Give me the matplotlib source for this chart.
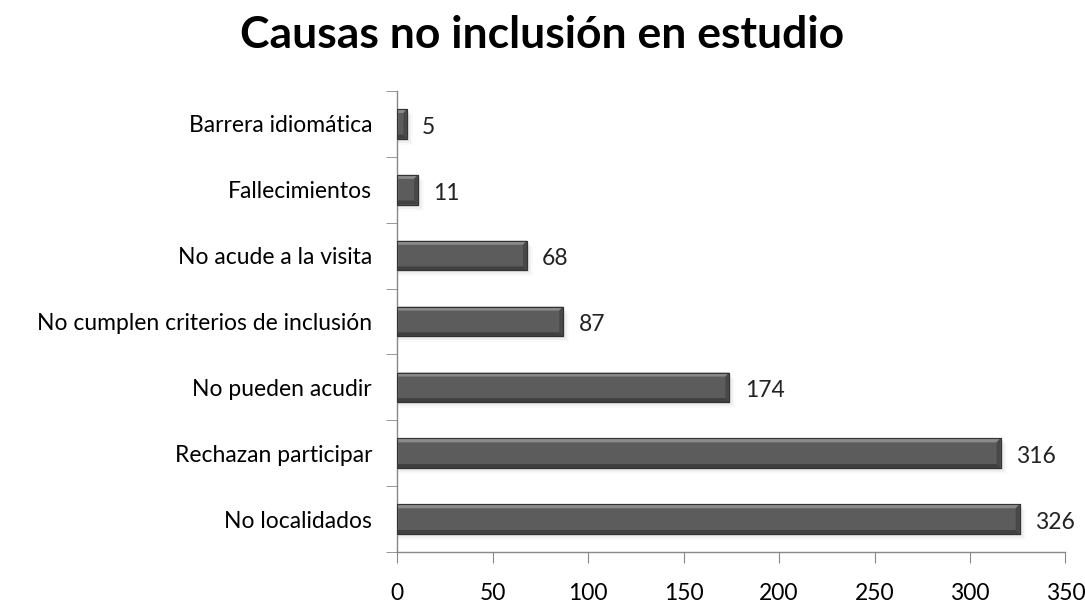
import matplotlib
matplotlib.use("Agg")
import matplotlib.pyplot as plt
from matplotlib.patches import Polygon, Rectangle
import numpy as np

categories = ["No localidados", "Rechazan participar", "No pueden acudir",
              "No cumplen criterios de inclusión", "No acude a la visita",
              "Fallecimientos", "Barrera idiomática"]
values = [326, 316, 174, 87, 68, 11, 5]
xticks = [0, 50, 100, 150, 200, 250, 300, 350]

plt.rcParams['font.family'] = ['Lato', 'DejaVu Sans']

fig = plt.figure(figsize=(10.85, 6.10), dpi=100)
ax = fig.add_axes([0.366, 0.095, 0.616, 0.756])
ax.set_xlim(0, 350)
ax.set_ylim(-0.5, len(categories) - 0.5)

bar_h = 0.45
face = "#5c5c5c"
fig.canvas.draw()
# bevel size in data units (about 4 px)
px_x = 350 / (ax.get_window_extent().width)
px_y = len(categories) / (ax.get_window_extent().height)
bx, by = 4 * px_x, 4 * px_y

ypos = np.arange(len(categories))
for y, v in zip(ypos, values):
    y0, y1 = y - bar_h / 2, y + bar_h / 2
    # soft shadow
    for k, a in enumerate([0.06, 0.04, 0.02]):
        ax.add_patch(Rectangle((0, y0 - (k + 1) * px_y * 2), v + (k + 1) * px_x * 2,
                               bar_h, color="black", alpha=a, lw=0, zorder=1))
    ax.add_patch(Rectangle((0, y0), v, bar_h, facecolor=face, edgecolor="#3a3a3a",
                           lw=0.8, zorder=2))
    b = min(bx, v / 3)
    # top bevel (light)
    ax.add_patch(Polygon([(0, y1), (v, y1), (v - b, y1 - by), (0, y1 - by)],
                         closed=True, facecolor="#8a8a8a", lw=0, zorder=3))
    # bottom bevel (dark)
    ax.add_patch(Polygon([(0, y0), (v, y0), (v - b, y0 + by), (0, y0 + by)],
                         closed=True, facecolor="#404040", lw=0, zorder=3))
    # right bevel
    ax.add_patch(Polygon([(v, y0), (v, y1), (v - b, y1 - by), (v - b, y0 + by)],
                         closed=True, facecolor="#484848", lw=0, zorder=3))
    ax.add_patch(Rectangle((0, y0), v, bar_h, facecolor="none", edgecolor="#333333",
                           lw=0.8, zorder=4))
    ax.text(v + 8, y - 0.05, str(v), va="center", ha="left", fontsize=16.5,
            color="#222222")

ax.set_xticks(xticks)
ax.set_xticklabels([str(t) for t in xticks], fontsize=16.5)
ax.set_yticks(ypos)
ax.set_yticklabels(categories, fontsize=16.5)
ax.set_yticks(np.arange(-0.5, len(categories), 1.0), minor=True)
ax.tick_params(axis="y", which="major", length=0, pad=18)
ax.tick_params(axis="y", which="minor", length=8, direction="out", color="#888888")
ax.tick_params(axis="x", length=8, direction="out", pad=14, color="#888888")

for s in ["top", "right"]:
    ax.spines[s].set_visible(False)
for s in ["left", "bottom"]:
    ax.spines[s].set_color("#888888")
    ax.spines[s].set_linewidth(1.0)

fig.suptitle("Causas no inclusión en estudio", fontsize=32, fontweight="bold",
             x=0.5, y=0.975)

fig.savefig("out.png", dpi=100)
